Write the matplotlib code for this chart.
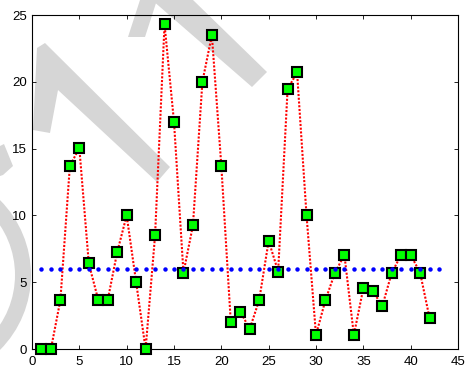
import numpy as np
import matplotlib.pyplot as plt
from matplotlib.patches import Polygon, Wedge
from matplotlib.transforms import Affine2D

# sample values
x_vals = list(range(1, 43))
y_vals = [0, 0, 3.67, 13.7, 15.05, 6.4, 3.67, 3.67, 7.25, 10.0,
          5.0, 0, 8.5, 24.3, 17.0, 5.7, 9.25, 20.0, 23.5, 13.7,
          2.0, 2.8, 1.5, 3.67, 8.1, 5.8, 19.45, 20.7, 10.0, 1.05,
          3.67, 5.7, 7.05, 1.05, 4.55, 4.35, 3.2, 5.7, 7.05, 7.05,
          5.7, 2.3]

# threshold level
thresh = 6
thresh_x = list(range(1, 44))

xticks = [0, 5, 10, 15, 20, 25, 30, 35, 40, 45]
yticks = [0, 5, 10, 15, 20, 25]

plt.rcParams['font.family'] = ['Liberation Sans', 'DejaVu Sans']

W, H = 465, 367
fig = plt.figure(figsize=(W / 100, H / 100), dpi=100)
ax = fig.add_axes([32 / W, 1 - 349 / H, 426 / W, 334 / H])
ax.patch.set_alpha(0)

# light grey background strokes, pixel coordinates with y measured from top
grey = '#d6d6d6'
pix = Affine2D().scale(1, -1).translate(0, H).scale(1 / 100) + fig.dpi_scale_trans

shapes = [
    [(37, 48), (45, 43), (170, 167), (157, 182), (58, 90), (50, 133), (33, 130)],
    [(163, 0), (193, 0), (267, 72), (252, 87), (152, 0)],
    [(140, 0), (157, 0), (145, 37), (128, 37)],
    [(0, 146), (4, 144), (13, 166), (3, 175), (0, 176)],
]
for s in shapes:
    fig.add_artist(Polygon(s, closed=True, facecolor=grey, edgecolor='none',
                           transform=pix, zorder=-1))

# big arc on the left margin
fig.add_artist(Wedge((-75, 275), 106, -45, 45, width=16, facecolor=grey,
                     edgecolor='none', transform=pix, zorder=-1))

ax.plot(x_vals, y_vals, color='#ff0000', linestyle=(0, (1, 0.8)), linewidth=1.5,
        marker='s', markersize=7.6, markerfacecolor='#00ff00',
        markeredgecolor='black', markeredgewidth=1.5, zorder=3, clip_on=False)
ax.plot(thresh_x, [thresh] * len(thresh_x), linestyle='none', marker='o',
        markersize=3.2, markeredgewidth=0, color='#0000ff', zorder=4, clip_on=False)

ax.set_xlim(0, 45)
ax.set_ylim(0, 25)
ax.set_xticks(xticks)
ax.set_yticks(yticks)
ax.tick_params(direction='in', length=3, width=0.6, top=True, right=True,
               labelsize=9.5, colors='black')
ax.tick_params(axis='x', pad=5)
ax.tick_params(axis='y', pad=3.5)
for sp in ax.spines.values():
    sp.set_linewidth(0.8)

fig.savefig('out.png', dpi=100)
